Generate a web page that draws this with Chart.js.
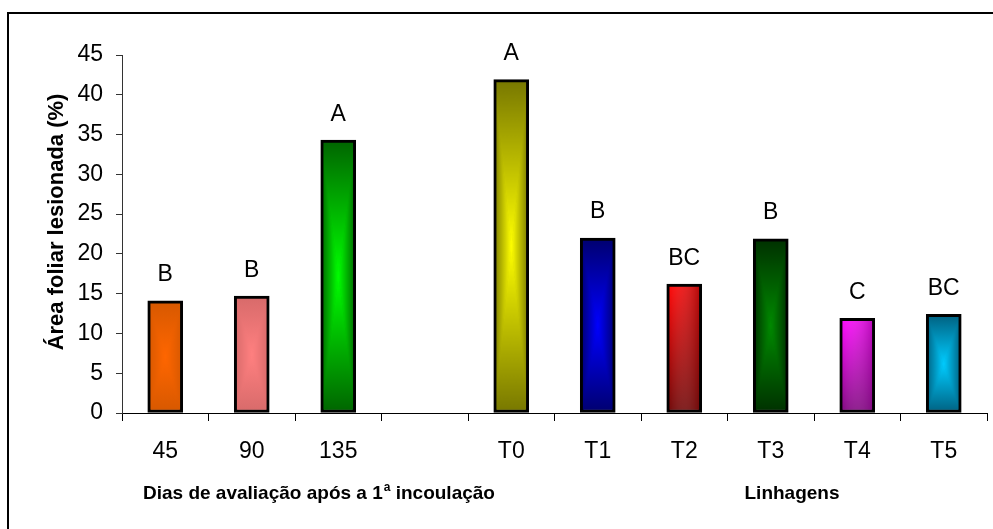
<!DOCTYPE html>
<html>
<head>
<meta charset="utf-8">
<script src="https://cdn.jsdelivr.net/npm/chart.js@4.4.1/dist/chart.umd.min.js"></script>
<style>
  html, body { margin: 0; padding: 0; background: #ffffff; }
  canvas { display: block; }
</style>
</head>
<body>
<canvas id="chart" width="993" height="529"></canvas>
<script>
// Evaluation days (45, 90, 135) and lineages (T0–T5), with an empty slot between the two groups
const categories = ['45', '90', '135', '', 'T0', 'T1', 'T2', 'T3', 'T4', 'T5'];
// Injured leaf area (%)
const lesionArea = [14.1, 14.7, 34.3, null, 41.9, 22.0, 16.2, 21.9, 11.9, 12.4];
// Mean-comparison letters shown above each bar
const groupLetters = ['B', 'B', 'A', '', 'A', 'B', 'BC', 'B', 'C', 'BC'];
const yAxisTitle = 'Área foliar lesionada (%)';
const groupTitleDays = ['Dias de avaliação após a 1', 'a', ' incoulação'];
const groupTitleLines = 'Linhagens';

// Fill of each bar: "center" = rectangular gradient, bright in the middle and darker at the edges;
// "linear" = diagonal gradient from the top-left corner to the bottom-right corner.
const barFills = [
  { kind: 'center', edge: '#d65800', mid: '#ff6600' },
  { kind: 'center', edge: '#d76a6a', mid: '#ff8080' },
  { kind: 'center', edge: '#006400', mid: '#00ff00' },
  { kind: 'center', edge: '#ffffff', mid: '#ffffff' },
  { kind: 'center', edge: '#777700', mid: '#ffff00' },
  { kind: 'center', edge: '#00006e', mid: '#0000ff' },
  { kind: 'linear', edge: '#6a0000', mid: '#ff0000' },
  { kind: 'center', edge: '#003000', mid: '#008a00' },
  { kind: 'linear', edge: '#7a007a', mid: '#ff00ff' },
  { kind: 'center', edge: '#005f7f', mid: '#00ccff' }
];

const FONT = "'Liberation Sans', Arial, Helvetica, sans-serif";
const BAR_WIDTH = 35;

function paintBar(g, w, h, fill) {
  if (fill.kind === 'linear') {
    const gv = g.createLinearGradient(0, 0, 0, h);
    gv.addColorStop(0, fill.mid);
    gv.addColorStop(1, fill.edge);
    g.fillStyle = gv;
    g.fillRect(0, 0, w, h);
    g.globalAlpha = 0.55;
    const gh = g.createLinearGradient(0, 0, w, 0);
    gh.addColorStop(0, 'rgba(255,255,255,0)');
    gh.addColorStop(1, fill.edge);
    g.fillStyle = gh;
    g.fillRect(0, 0, w, h);
    g.globalAlpha = 1;
    return;
  }
  const cx = w / 2, cy = h / 2;
  g.fillStyle = fill.edge;
  g.fillRect(0, 0, w, h);
  const tri = (pts, x0, y0, x1, y1) => {
    const gr = g.createLinearGradient(x0, y0, x1, y1);
    gr.addColorStop(0, fill.edge);
    gr.addColorStop(1, fill.mid);
    g.fillStyle = gr;
    g.strokeStyle = gr;
    g.lineWidth = 0.6;
    g.beginPath();
    g.moveTo(pts[0][0], pts[0][1]);
    g.lineTo(pts[1][0], pts[1][1]);
    g.lineTo(pts[2][0], pts[2][1]);
    g.closePath();
    g.fill();
    g.stroke();
  };
  tri([[0, 0], [w, 0], [cx, cy]], cx, 0, cx, cy);
  tri([[0, h], [w, h], [cx, cy]], cx, h, cx, cy);
  tri([[0, 0], [0, h], [cx, cy]], 0, cy, cx, cy);
  tri([[w, 0], [w, h], [cx, cy]], w, cy, cx, cy);
}

function barBackground(ctx) {
  const fill = barFills[ctx.dataIndex] || barFills[0];
  const chart = ctx.chart;
  const xs = chart.scales && chart.scales.x;
  const ys = chart.scales && chart.scales.y;
  if (ctx.type !== 'data' || !xs || !ys || ctx.raw == null) return fill.mid;
  const cx = xs.getPixelForValue(ctx.dataIndex);
  const top = ys.getPixelForValue(ctx.raw);
  const base = ys.getPixelForValue(0);
  if (!isFinite(cx) || !isFinite(top) || !isFinite(base) || base - top < 2) return fill.mid;
  const left = cx - BAR_WIDTH / 2;
  const w = BAR_WIDTH, h = Math.max(2, Math.round(base - top));
  const off = document.createElement('canvas');
  off.width = w; off.height = h;
  paintBar(off.getContext('2d'), w, h, fill);
  const pattern = chart.ctx.createPattern(off, 'no-repeat');
  pattern.setTransform(new DOMMatrix([1, 0, 0, 1, left, top]));
  return pattern;
}

// White page with the outer frame
const framePlugin = {
  id: 'frame',
  beforeDraw(chart) {
    const c = chart.ctx;
    c.save();
    c.fillStyle = '#ffffff';
    c.fillRect(0, 0, chart.width, chart.height);
    c.strokeStyle = '#000000';
    c.lineWidth = 2;
    c.strokeRect(8, 13, chart.width + 20, chart.height + 20);
    c.restore();
  }
};

// Letters above the bars and the vertical axis title
const letterPlugin = {
  id: 'letters',
  afterDatasetsDraw(chart) {
    const meta = chart.getDatasetMeta(0);
    const c = chart.ctx;
    c.save();
    c.font = '23px ' + FONT;
    c.fillStyle = '#000000';
    c.textAlign = 'center';
    c.textBaseline = 'alphabetic';
    meta.data.forEach((bar, i) => {
      if (!groupLetters[i] || lesionArea[i] == null) return;
      c.fillText(groupLetters[i], bar.x, bar.y - 19.5);
    });
    c.translate(57, chart.chartArea.top + 167);
    c.rotate(-Math.PI / 2);
    c.font = 'bold 22px ' + FONT;
    c.textBaseline = 'middle';
    c.fillText(yAxisTitle, 0, 0);
    c.restore();
  }
};

// Group titles under the category labels
const groupTitlePlugin = {
  id: 'groupTitles',
  afterDraw(chart) {
    const c = chart.ctx;
    const area = chart.chartArea;
    const y = area.bottom + 86;
    c.save();
    c.fillStyle = '#000000';
    c.textBaseline = 'alphabetic';
    c.textAlign = 'left';
    const big = 'bold 19px ' + FONT;
    const small = 'bold 12px ' + FONT;
    c.font = big;
    const w1 = c.measureText(groupTitleDays[0]).width;
    c.font = small;
    const w2 = c.measureText(groupTitleDays[1]).width;
    let x = area.left + 21;
    c.font = big;
    c.fillText(groupTitleDays[0], x, y);
    x += w1 + 1;
    c.font = small;
    c.fillText(groupTitleDays[1], x, y - 8);
    x += w2;
    c.font = big;
    c.fillText(groupTitleDays[2], x, y);
    c.textAlign = 'center';
    c.fillText(groupTitleLines, area.left + 670, y);
    c.restore();
  }
};

new Chart(document.getElementById('chart'), {
  type: 'bar',
  data: {
    labels: categories,
    datasets: [{
      data: lesionArea,
      backgroundColor: barBackground,
      borderColor: '#000000',
      borderWidth: 3,
      borderSkipped: false,
      barThickness: BAR_WIDTH
    }]
  },
  options: {
    responsive: false,
    animation: false,
    events: [],
    layout: { padding: { left: 0, right: 6, top: 55, bottom: 0 } },
    plugins: {
      legend: { display: false },
      tooltip: { enabled: false }
    },
    scales: {
      x: {
        offset: true,
        grid: {
          offset: true,
          drawOnChartArea: false,
          drawTicks: true,
          tickLength: 8,
          tickColor: '#000000',
          lineWidth: 1
        },
        border: { display: true, color: '#000000', width: 1 },
        ticks: {
          color: '#000000',
          font: { family: FONT, size: 23 },
          padding: 17,
          maxRotation: 0,
          autoSkip: false
        },
        afterFit(scale) { scale.height = 116; }
      },
      y: {
        min: 0,
        max: 45,
        grid: {
          drawOnChartArea: false,
          drawTicks: true,
          tickLength: 6,
          tickColor: '#333333'
        },
        border: { display: true, color: '#333333', width: 1 },
        ticks: {
          stepSize: 5,
          color: '#000000',
          font: { family: FONT, size: 23 },
          padding: 13
        },
        afterFit(scale) { scale.width = 122; }
      }
    }
  },
  plugins: [framePlugin, letterPlugin, groupTitlePlugin]
});
</script>
</body>
</html>
